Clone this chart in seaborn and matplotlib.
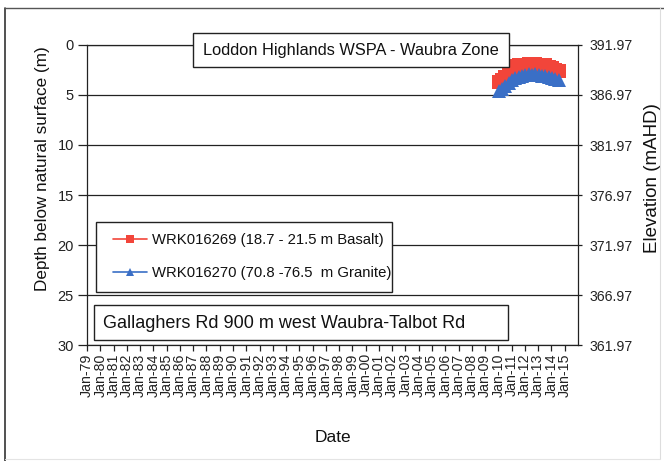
import pandas as pd
import matplotlib
matplotlib.use("Agg")
import matplotlib.pyplot as plt
import matplotlib.dates as mdates
from matplotlib.patches import Rectangle
from matplotlib.lines import Line2D
import seaborn as sns

# Groundwater depth readings (m below natural surface), quarterly
dates = ["2010-01-15", "2010-04-15", "2010-07-15", "2010-10-15",
         "2011-01-15", "2011-04-15", "2011-07-15", "2011-10-15",
         "2012-01-15", "2012-04-15", "2012-07-15", "2012-10-15",
         "2013-01-15", "2013-04-15", "2013-07-15", "2013-10-15",
         "2014-01-15", "2014-04-15", "2014-07-15"]
depth_wrk016269 = [3.7, 3.5, 3.2, 2.9, 2.4, 2.1, 2.0, 2.1, 2.0, 1.9,
                   2.0, 1.9, 2.0, 2.1, 2.0, 2.2, 2.3, 2.5, 2.6]
depth_wrk016270 = [4.6, 4.4, 4.1, 3.8, 3.5, 3.3, 3.2, 3.1, 3.0, 2.9,
                   3.0, 2.9, 3.0, 3.1, 3.1, 3.2, 3.3, 3.4, 3.5]

label_269 = "WRK016269 (18.7 - 21.5 m Basalt)"
label_270 = "WRK016270 (70.8 -76.5  m Granite)"
title_text = "Loddon Highlands WSPA - Waubra Zone"
site_text = "Gallaghers Rd 900 m west Waubra-Talbot Rd"

surface_elevation = 391.97          # mAHD at the natural surface
depth_ticks = [0, 5, 10, 15, 20, 25, 30]
first_year, last_year = 1979, 2015

RED = "#f2453a"
BLUE = "#3a6fc6"

sns.set_theme(style="white")
plt.rcParams["font.family"] = ["Liberation Sans", "DejaVu Sans"]

df = pd.DataFrame({
    "date": pd.to_datetime(dates * 2),
    "depth": depth_wrk016269 + depth_wrk016270,
    "bore": [label_269] * len(dates) + [label_270] * len(dates),
})

W, H = 664, 461
fig = plt.figure(figsize=(W / 100, H / 100), dpi=100)
fig.patch.set_facecolor("white")

def fx(px):
    return px / W

def fy(py):
    return 1 - py / H

ax = fig.add_axes([fx(87), fy(345), fx(578) - fx(87), fy(45) - fy(345)])
ax.set_facecolor("white")

sns.lineplot(data=df, x="date", y="depth", hue="bore", style="bore",
             palette={label_269: RED, label_270: BLUE},
             markers={label_269: "s", label_270: "^"},
             dashes=False, markersize=9.5, markeredgewidth=0, linewidth=3,
             legend=False, ax=ax, zorder=3)

# Depth axis (left), increasing downwards
ax.set_ylim(30, 0)
ax.set_yticks(depth_ticks)
ax.set_yticklabels([str(t) for t in depth_ticks])
ax.yaxis.grid(True, color="#222222", linewidth=0.9)
ax.xaxis.grid(False)
ax.tick_params(axis="y", which="major", direction="out", length=6.5, width=0.9,
               color="#222222", pad=3, labelsize=10.5, labelcolor="#222222", left=True)

# Yearly date axis
ax.set_xlim(pd.Timestamp(f"{first_year}-01-01"), pd.Timestamp(f"{last_year + 1}-01-01"))
ax.set_xticks([pd.Timestamp(f"{y}-01-01") for y in range(first_year, last_year + 1)])
ax.xaxis.set_major_formatter(mdates.DateFormatter("%b-%y"))
ax.tick_params(axis="x", which="major", direction="out", length=4, width=0.9,
               color="#222222", pad=2, labelsize=10.2, labelcolor="#222222",
               labelrotation=90, bottom=True)

for side in ["left", "bottom", "top", "right"]:
    ax.spines[side].set_color("#222222")
    ax.spines[side].set_linewidth(0.9)

ax.set_xlabel("Date", fontsize=12.5, color="#111111", labelpad=24)
ax.set_ylabel("Depth below natural surface (m)", fontsize=12.3, color="#111111")
ax.yaxis.set_label_coords(-0.075, 0.587)

# Elevation axis (right)
ax2 = ax.twinx()
ax2.set_ylim(surface_elevation - 30, surface_elevation)
elev_ticks = [surface_elevation - t for t in depth_ticks]
ax2.set_yticks(elev_ticks)
ax2.set_yticklabels([f"{v:.2f}" for v in elev_ticks])
ax2.grid(False)
ax2.tick_params(axis="y", direction="out", length=3, width=0.9, color="#222222",
                pad=5, labelsize=10.2, labelcolor="#222222", right=True)
for side in ["left", "bottom", "top", "right"]:
    ax2.spines[side].set_visible(False)
ax2.set_ylabel("Elevation (mAHD)", fontsize=13.5, color="#111111")
ax2.yaxis.set_label_coords(1.134, 0.557)

# Annotation boxes
def box(x0, y0, x1, y1):
    fig.add_artist(Rectangle((fx(x0), fy(y1)), fx(x1) - fx(x0), fy(y0) - fy(y1),
                             transform=fig.transFigure, facecolor="white",
                             edgecolor="#222222", linewidth=1.0, zorder=5))

box(193, 33, 509, 67)
fig.text(fx(351), fy(50), title_text, ha="center", va="center",
         fontsize=11.8, color="#111111", zorder=6)

box(94, 305, 508, 340)
fig.text(fx(103), fy(323), site_text, ha="left", va="center",
         fontsize=13, color="#111111", zorder=6)

box(96, 222, 392, 292)
handles = [
    Line2D([], [], color=RED, marker="s", markersize=6, markeredgewidth=0, linewidth=1.2),
    Line2D([], [], color=BLUE, marker="^", markersize=6, markeredgewidth=0, linewidth=1.2),
]
leg = fig.legend(handles, [label_269, label_270], loc="upper left",
                 bbox_to_anchor=(fx(113), fy(233)), frameon=False,
                 fontsize=10.7, handlelength=2.3, handletextpad=0.35,
                 labelspacing=1.3, borderaxespad=0, borderpad=0)
leg.set_zorder(7)
for t in leg.get_texts():
    t.set_color("#111111")

# Outer chart frame
fig.add_artist(Line2D([fx(5), fx(5)], [fy(8), fy(461)], transform=fig.transFigure,
                      color="#333333", linewidth=1.2))
fig.add_artist(Line2D([fx(5), fx(664)], [fy(8), fy(8)], transform=fig.transFigure,
                      color="#555555", linewidth=1.0))
fig.add_artist(Line2D([fx(660), fx(660)], [fy(8), fy(459)], transform=fig.transFigure,
                      color="#dddddd", linewidth=0.8))
fig.add_artist(Line2D([fx(5), fx(660)], [fy(459), fy(459)], transform=fig.transFigure,
                      color="#e4e4e4", linewidth=0.8))

fig.savefig("out.png", dpi=100, facecolor="white")
